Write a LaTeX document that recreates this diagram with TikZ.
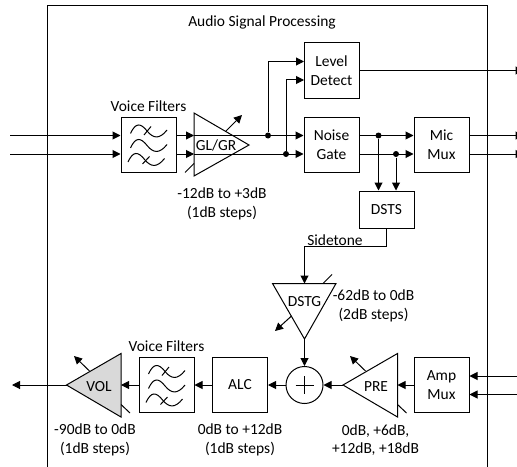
\documentclass[tikz,border=0pt]{standalone}
\usepackage{fontspec}
\setmainfont{Carlito}
\usetikzlibrary{arrows.meta}
\tikzset{every picture/.style={line width=0.75pt}}
\tikzset{
	blockbox/.style={draw,minimum width=41.25pt,minimum height=41.25pt,inner sep=0pt,align=center,font=\fontsize{11.6}{13.9}\selectfont},
	shortbox/.style={blockbox,minimum height=27.75pt},
	caption/.style={inner sep=0pt,align=center,font=\fontsize{11.6}{13.9}\selectfont},
	sig/.style={-{Triangle[length=6pt,width=6pt]}},
	dotmark/.style={circle,fill,inner sep=0pt,minimum size=4.5pt},
}
% three wave lines with a cross tick, centred on the filter box
\newcommand{\filterwaves}[1]{%
	\begin{scope}[shift={(#1)}]
		\foreach \dx/\dy in {0/-13,0/1.5,-2.5/15.5} {
			\draw (\dx-18,\dy+2) .. controls (\dx-13,\dy-9) and (\dx-8,\dy-9) .. (\dx-1,\dy) .. controls (\dx+5,\dy+7) and (\dx+11,\dy+8) .. (\dx+18.5,\dy-1.5);
		}
		\draw (-4.5,-9.5) -- (2.5,-18);
		\draw (-6,19.5) -- (1,12);
	\end{scope}
}

\begin{document}
\begin{tikzpicture}[x=0.75pt,y=0.75pt,yscale=-1]
	\clip (0,0) rectangle (517,467);

	%Outer frame
	\draw (47.5,467) -- (47.5,5.5) -- (487.5,5.5) -- (487.5,467);
	\node[caption] (title) at (262,22) {Audio Signal Processing};

	%Blocks
	\node[blockbox] (filterin) at (148.5,144.5) {};
	\node[blockbox] (level) at (331.5,70.5) {Level\\Detect};
	\node[blockbox] (gate) at (331.5,144.5) {Noise\\Gate};
	\node[blockbox] (micmux) at (441.5,144.5) {Mic\\Mux};
	\node[shortbox] (dsts) at (386.5,209.5) {DSTS};
	\node[blockbox] (ampmux) at (441.5,385) {Amp\\Mux};
	\node[blockbox] (alc) at (240,385) {ALC};
	\node[blockbox] (filterout) at (166.5,385) {};
	\filterwaves{148.5,144.5}
	\filterwaves{166.5,385}

	%Triangles
	\coordinate (glt) at (194,113);
	\coordinate (glb) at (194,176);
	\coordinate (gltip) at (249,145);
	\draw (glt) -- (gltip) -- (glb) -- cycle;
	\node[caption] (gllabel) at (216,145) {GL/GR};
	\coordinate (dgl) at (272.5,283.5);
	\coordinate (dgr) at (336,283.5);
	\coordinate (dgtip) at (304.5,339);
	\draw (dgl) -- (dgr) -- (dgtip) -- cycle;
	\node[caption] (dglabel) at (304.5,302) {DSTG};
	\coordinate (prt) at (397.5,353.5);
	\coordinate (prb) at (397.5,417);
	\coordinate (prtip) at (343,385);
	\draw (prt) -- (prb) -- (prtip) -- cycle;
	\node[caption] (prlabel) at (376,387) {PRE};
	\coordinate (vot) at (121,353.5);
	\coordinate (vob) at (121,417);
	\coordinate (votip) at (66.5,385);
	\draw [fill={rgb, 255:red, 217; green, 217; blue, 217 }] (vot) -- (vob) -- (votip) -- cycle;
	\node[caption] (volabel) at (99,387) {VOL};

	%Summing point
	\node[draw,circle,minimum size=27.75pt,inner sep=0pt] (sum) at (304.5,385) {};
	\draw [line width=0.4pt] (sum.center) +(-9,0) -- +(9,0) (sum.center) +(0,-9) -- +(0,9);

	%Gain arrows and ticks
	\draw [sig] (226,131) -- (242,115);
	\draw (185,172.5) -- (194,163.5);
	\draw [sig] (291.5,316) -- (275,331);
	\draw (323,283.5) -- (332,274.5);
	\draw [sig] (365.5,371) -- (350,356);
	\draw (397.5,404.5) -- (406.5,413);
	\draw [sig] (89.5,371) -- (74,356);
	\draw (121,404.5) -- (130,413);

	%Free ends
	\coordinate (inl) at (10,135.5);
	\coordinate (inr) at (10,154);
	\coordinate (leveltop) at (304,61.5);
	\coordinate (levelbot) at (304,80);
	\coordinate (outlevel) at (523.5,70.5);
	\coordinate (outl) at (523.5,135.5);
	\coordinate (outr) at (523.5,154);
	\coordinate (ampl) at (525,376);
	\coordinate (ampr) at (525,394.5);
	\coordinate (volout) at (12,385);

	%Input side
	\draw [sig] (inl) -- (inl -| filterin.west);
	\draw [sig] (inr) -- (inr -| filterin.west);
	\draw [sig] (inl -| filterin.east) -- (inl -| glt);
	\draw [sig] (inr -| filterin.east) -- (inr -| glt);
	\draw [sig] (inl -| glt) -- (inl -| gate.west);
	\draw [sig] (inr -| glt) -- (inr -| gate.west);
	\node[dotmark] (dotgl) at (268,135.5) {};
	\node[dotmark] (dotgr) at (286,154) {};
	\draw [sig] (dotgl) |- (leveltop);
	\draw [sig] (dotgr) |- (levelbot);

	%Outputs
	\draw [sig] (level.east |- outlevel) -- (outlevel);
	\draw [sig] (inl -| gate.east) -- (inl -| micmux.west);
	\draw [sig] (inr -| gate.east) -- (inr -| micmux.west);
	\draw [sig] (outl -| micmux.east) -- (outl);
	\draw [sig] (outr -| micmux.east) -- (outr);

	%Sidetone path
	\node[dotmark] (dotml) at (378.5,135.5) {};
	\node[dotmark] (dotmr) at (396,154) {};
	\draw [sig] (dotml) -- (dotml |- dsts.north);
	\draw [sig] (dotmr) -- (dotmr |- dsts.north);
	\draw [sig] (dsts.south) |- (304.5,246.5) -- (dgl -| dgtip);
	\node[caption,anchor=south] (sidetone) at (335,246) {Sidetone};
	\draw [sig] (dgtip) -- (sum.north);

	%Return path
	\draw [sig] (ampl) -- (ampl -| ampmux.east);
	\draw [sig] (ampr) -- (ampr -| ampmux.east);
	\draw [sig] (ampmux.west) -- (prt |- ampmux.west);
	\draw [sig] (prtip) -- (sum.east);
	\draw [sig] (sum.west) -- (alc.east);
	\draw [sig] (alc.west) -- (filterout.east);
	\draw [sig] (filterout.west) -- (vot |- filterout.west);
	\draw [sig] (votip) -- (volout);

	%Captions
	\node[caption] (vfin) at (148.5,106.5) {Voice Filters};
	\node[caption] (vfout) at (166.5,346) {Voice Filters};
	\node[caption] (glgain) at (222,204) {-12dB to +3dB\\(1dB steps)};
	\node[caption] (dggain) at (373.5,306) {-62dB to 0dB\\(2dB steps)};
	\node[caption] (prgain) at (375.5,440) {0dB, +6dB,\\+12dB, +18dB};
	\node[caption] (algain) at (240,440) {0dB to +12dB\\(1dB steps)};
	\node[caption] (vogain) at (95,440) {-90dB to 0dB\\(1dB steps)};
\end{tikzpicture}
\end{document}
